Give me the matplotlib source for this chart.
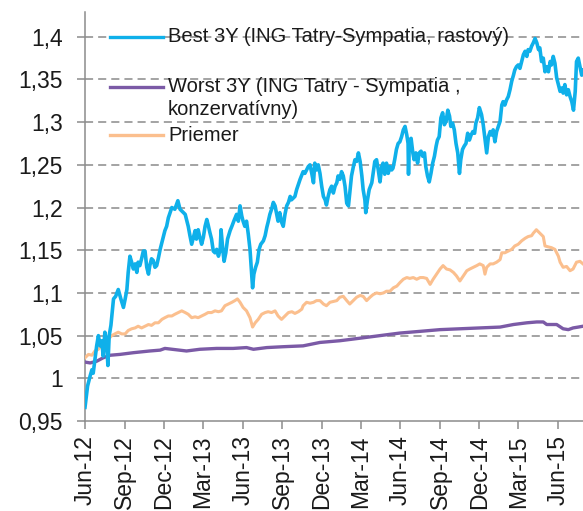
import matplotlib
matplotlib.use("Agg")
import matplotlib.pyplot as plt
import matplotlib.dates as mdates
from matplotlib.ticker import FuncFormatter
import numpy as np
import pandas as pd

plt.rcParams["font.family"] = ["Liberation Sans", "DejaVu Sans"]

START = pd.Timestamp("2012-06-01")

# days since START
best_days = [0, 6, 12, 16, 19, 23, 27, 31, 35, 39, 42, 46, 50, 53, 56, 60, 66, 71, 77, 83,
             89, 93, 97, 100, 104, 108, 112, 116, 120, 123, 127, 131, 135, 139, 143, 147, 150, 154, 158, 162,
             166, 170, 174, 178, 181, 185, 189, 193, 197, 201, 208, 215, 220, 228, 232, 235, 239, 243, 247, 251,
             255, 258, 262, 266, 270, 274, 278, 282, 285, 289, 293, 297, 301, 305, 309, 313, 315, 319, 322, 326,
             330, 336, 340, 346, 351, 355, 359, 363, 366, 370, 374, 378, 382, 386, 388, 391, 395, 399, 403, 407,
             413, 417, 421, 424, 428, 432, 436, 440, 444, 447, 451, 455, 459, 463, 467, 471, 475, 478, 482, 486,
             490, 494, 498, 501, 505, 509, 513, 517, 521, 525, 529, 532, 536, 540, 544, 548, 552, 556, 559, 563,
             567, 571, 575, 579, 583, 586, 590, 594, 598, 602, 606, 610, 613, 617, 621, 625, 629, 633, 637, 641,
             644, 648, 650, 654, 658, 664, 667, 671, 675, 679, 683, 687, 690, 694, 698, 702, 706, 710, 713, 717,
             721, 725, 729, 733, 737, 741, 745, 748, 749, 751, 755, 759, 762, 766, 770, 774, 778, 782, 786, 789,
             793, 797, 801, 805, 809, 813, 816, 820, 824, 828, 832, 836, 840, 844, 847, 851, 855, 859, 863, 867,
             870, 874, 878, 882, 886, 890, 894, 898, 902, 905, 909, 913, 918, 922, 926, 930, 934, 938, 941, 945,
             949, 953, 957, 961, 965, 968, 972, 976, 980, 984, 988, 992, 995, 999, 1003, 1007, 1011, 1015, 1019, 1023,
             1026, 1030, 1034, 1038, 1042, 1046, 1050, 1053, 1057, 1061, 1065, 1069, 1073, 1077, 1080, 1084, 1088, 1092, 1096, 1100,
             1104, 1107, 1111, 1115, 1119, 1123, 1127, 1131, 1135, 1138, 1142, 1146, 1150, 1153]
best_vals = [0.966, 0.991, 1.003, 1.010, 1.006, 1.022, 1.038, 1.050, 1.038, 1.044, 1.026, 1.054, 1.042, 1.015, 1.050, 1.062, 1.093, 1.096, 1.104, 1.093,
             1.083, 1.093, 1.104, 1.124, 1.143, 1.136, 1.128, 1.134, 1.124, 1.136, 1.132, 1.140, 1.149, 1.149, 1.130, 1.122, 1.132, 1.140, 1.138, 1.130,
             1.132, 1.141, 1.151, 1.159, 1.165, 1.173, 1.178, 1.188, 1.194, 1.200, 1.198, 1.208, 1.198, 1.194, 1.192, 1.186, 1.178, 1.167, 1.157, 1.165,
             1.173, 1.163, 1.174, 1.165, 1.157, 1.165, 1.178, 1.186, 1.180, 1.171, 1.163, 1.149, 1.147, 1.151, 1.143, 1.151, 1.174, 1.151, 1.137, 1.147,
             1.163, 1.173, 1.178, 1.186, 1.192, 1.184, 1.202, 1.190, 1.184, 1.178, 1.184, 1.169, 1.151, 1.120, 1.106, 1.122, 1.130, 1.136, 1.151, 1.157,
             1.161, 1.167, 1.177, 1.183, 1.192, 1.198, 1.206, 1.202, 1.192, 1.184, 1.194, 1.183, 1.178, 1.192, 1.202, 1.206, 1.213, 1.209, 1.211, 1.213,
             1.221, 1.227, 1.233, 1.237, 1.242, 1.240, 1.244, 1.248, 1.250, 1.240, 1.229, 1.252, 1.244, 1.250, 1.240, 1.225, 1.213, 1.209, 1.203, 1.213,
             1.221, 1.225, 1.217, 1.225, 1.229, 1.237, 1.233, 1.242, 1.237, 1.225, 1.205, 1.202, 1.217, 1.237, 1.247, 1.256, 1.254, 1.264, 1.254, 1.237,
             1.221, 1.209, 1.194, 1.209, 1.221, 1.229, 1.240, 1.254, 1.256, 1.244, 1.230, 1.248, 1.252, 1.239, 1.252, 1.240, 1.248, 1.244, 1.246, 1.256,
             1.268, 1.275, 1.277, 1.283, 1.291, 1.295, 1.285, 1.275, 1.239, 1.279, 1.281, 1.264, 1.256, 1.264, 1.252, 1.264, 1.266, 1.260, 1.264, 1.248,
             1.237, 1.230, 1.240, 1.252, 1.260, 1.272, 1.279, 1.283, 1.305, 1.311, 1.297, 1.301, 1.314, 1.307, 1.295, 1.299, 1.291, 1.275, 1.264, 1.240,
             1.256, 1.268, 1.272, 1.275, 1.287, 1.279, 1.285, 1.289, 1.287, 1.299, 1.305, 1.317, 1.309, 1.297, 1.281, 1.264, 1.283, 1.289, 1.285, 1.291,
             1.277, 1.289, 1.295, 1.301, 1.320, 1.324, 1.320, 1.326, 1.330, 1.338, 1.348, 1.355, 1.361, 1.365, 1.367, 1.363, 1.371, 1.379, 1.383, 1.377,
             1.385, 1.383, 1.389, 1.393, 1.398, 1.393, 1.385, 1.387, 1.371, 1.375, 1.359, 1.365, 1.359, 1.371, 1.367, 1.377, 1.369, 1.352, 1.344, 1.336,
             1.340, 1.334, 1.344, 1.332, 1.338, 1.330, 1.324, 1.314, 1.336, 1.371, 1.375, 1.365, 1.355, 1.361]

worst_days = [0, 12, 27, 42, 58, 81, 112, 150, 174, 185, 235, 266, 305, 343, 374, 390, 421, 459, 505, 544,
              590, 637, 683, 729, 776, 822, 868, 914, 961, 992, 1023, 1046, 1061, 1069, 1092, 1107, 1119, 1130, 1142, 1153]
worst_vals = [1.019, 1.018, 1.020, 1.024, 1.027, 1.028, 1.030, 1.032, 1.033, 1.035, 1.032, 1.034, 1.035, 1.035, 1.036, 1.034, 1.036, 1.037, 1.038, 1.042,
              1.044, 1.047, 1.050, 1.053, 1.055, 1.057, 1.058, 1.059, 1.060, 1.063, 1.065, 1.066, 1.066, 1.063, 1.063, 1.058, 1.057, 1.059, 1.060, 1.061]

avg_days = [0, 8, 16, 23, 31, 39, 46, 54, 62, 69, 77, 85, 93, 100, 108, 116, 123, 131, 139, 147,
            154, 162, 170, 178, 185, 193, 201, 208, 216, 224, 232, 239, 247, 255, 262, 270, 278, 285, 293, 301,
            309, 316, 324, 332, 340, 347, 353, 359, 366, 374, 382, 388, 394, 401, 409, 417, 424, 432, 440, 447,
            455, 463, 471, 479, 486, 494, 502, 505, 513, 521, 529, 536, 544, 552, 559, 567, 575, 583, 590, 598,
            606, 613, 621, 629, 637, 644, 652, 660, 667, 675, 683, 691, 698, 706, 714, 722, 729, 737, 745, 752,
            760, 768, 776, 783, 791, 799, 806, 814, 822, 829, 837, 845, 853, 860, 868, 876, 884, 891, 899, 907,
            914, 922, 926, 930, 938, 945, 953, 961, 965, 972, 980, 988, 995, 1003, 1011, 1019, 1026, 1034, 1038, 1045,
            1053, 1061, 1065, 1072, 1080, 1088, 1096, 1100, 1107, 1115, 1123, 1130, 1138, 1146, 1153]
avg_vals = [1.024, 1.028, 1.027, 1.032, 1.034, 1.039, 1.038, 1.046, 1.050, 1.052, 1.054, 1.052, 1.052, 1.056, 1.058, 1.059, 1.061, 1.059, 1.061, 1.063,
            1.062, 1.065, 1.065, 1.069, 1.071, 1.073, 1.073, 1.075, 1.077, 1.079, 1.077, 1.075, 1.071, 1.072, 1.071, 1.073, 1.075, 1.077, 1.077, 1.079,
            1.078, 1.079, 1.085, 1.087, 1.089, 1.091, 1.093, 1.089, 1.083, 1.079, 1.071, 1.060, 1.065, 1.069, 1.075, 1.077, 1.078, 1.077, 1.079, 1.073,
            1.069, 1.073, 1.077, 1.078, 1.076, 1.078, 1.081, 1.085, 1.089, 1.088, 1.089, 1.091, 1.091, 1.087, 1.085, 1.089, 1.090, 1.091, 1.095, 1.096,
            1.091, 1.087, 1.091, 1.095, 1.097, 1.096, 1.091, 1.095, 1.098, 1.100, 1.099, 1.100, 1.102, 1.102, 1.106, 1.108, 1.112, 1.116, 1.118, 1.117,
            1.118, 1.116, 1.118, 1.118, 1.117, 1.110, 1.116, 1.122, 1.128, 1.132, 1.128, 1.127, 1.124, 1.120, 1.114, 1.120, 1.126, 1.128, 1.130, 1.132,
            1.134, 1.132, 1.122, 1.130, 1.134, 1.134, 1.136, 1.139, 1.147, 1.147, 1.149, 1.151, 1.155, 1.157, 1.161, 1.164, 1.166, 1.167, 1.170, 1.174,
            1.170, 1.166, 1.155, 1.154, 1.153, 1.151, 1.143, 1.136, 1.130, 1.131, 1.126, 1.128, 1.136, 1.137, 1.134]

labels = ["Best 3Y (ING Tatry-Sympatia, rastový)",
          "Worst 3Y (ING Tatry - Sympatia ,\nkonzervatívny)",
          "Priemer"]
colors = ["#0fb0ea", "#7b5aa6", "#fbbf8e"]


def to_dates(days):
    return START + pd.to_timedelta(days, unit="D")


fig = plt.figure(figsize=(5.83, 5.11), dpi=100)
ax = fig.add_axes([85 / 583, 90 / 511, 498 / 583, 409 / 511])

ax.plot(to_dates(avg_days), avg_vals, color=colors[2], lw=2.2, zorder=3)
ax.plot(to_dates(worst_days), worst_vals, color=colors[1], lw=2.4, zorder=4)
ax.plot(to_dates(best_days), best_vals, color=colors[0], lw=2.6, zorder=5)

ax.set_xlim(START, START + pd.Timedelta(days=1153))
ax.set_ylim(0.95, 1.429)

ax.set_yticks(np.arange(0.95, 1.401, 0.05))
ax.yaxis.set_major_formatter(FuncFormatter(lambda v, p: f"{v:.2f}".rstrip("0").rstrip(".").replace(".", ",")))
ax.xaxis.set_major_locator(mdates.MonthLocator(bymonth=[3, 6, 9, 12]))
ax.xaxis.set_major_formatter(mdates.DateFormatter("%b-%y"))

for y in np.arange(1.0, 1.401, 0.05):
    ax.axhline(y, color="#8a8a8a", lw=1.1, ls=(0, (5.3, 3.3)), zorder=1)

for s in ["top", "right"]:
    ax.spines[s].set_visible(False)
for s in ["left", "bottom"]:
    ax.spines[s].set_color("#8c8c8c")
    ax.spines[s].set_linewidth(1.1)

ax.tick_params(axis="both", colors="#8c8c8c", length=5.8, width=1.1, labelcolor="#1a1a1a",
               labelsize=16.5)
ax.tick_params(axis="y", pad=10)
ax.tick_params(axis="x", pad=4.5, labelrotation=90)

# legend drawn by hand so the two-line entry keeps its handle on the first line
hx = [25 / 498, 78 / 498]
tx = 83 / 498
legend_y = [0.939, 0.817, 0.699]
for lab, col, y in zip(labels, colors, legend_y):
    ax.plot(hx, [y, y], color=col, lw=2.4, transform=ax.transAxes, clip_on=False, zorder=6)
    first = lab.split("\n")[0]
    ax.text(tx, y, first, transform=ax.transAxes, fontsize=14.5, va="center", ha="left",
            color="#1a1a1a", zorder=6)
    if "\n" in lab:
        ax.text(tx, y - 23 / 409, lab.split("\n")[1], transform=ax.transAxes, fontsize=14.5,
                va="center", ha="left", color="#1a1a1a", zorder=6)

fig.savefig("out.png", dpi=100)
